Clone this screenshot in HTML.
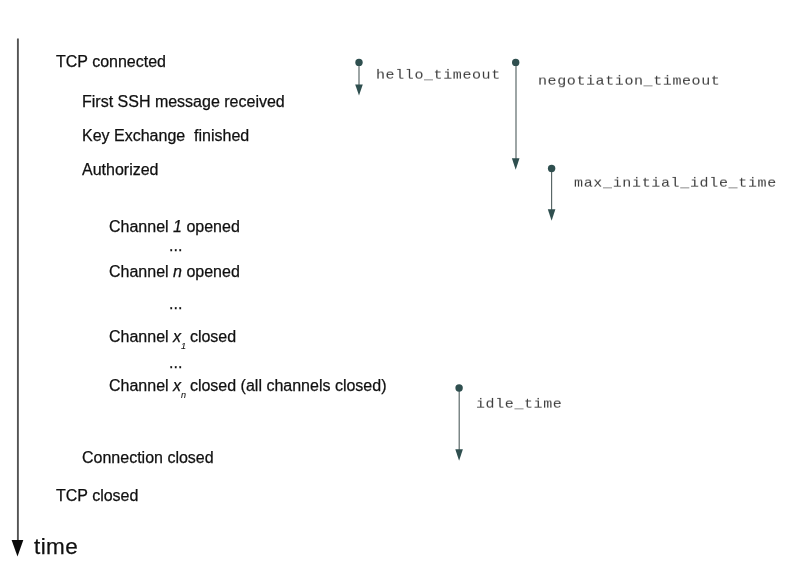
<!DOCTYPE html>
<html><head><meta charset="utf-8"><title>SSH timeouts</title>
<style>
html,body{margin:0;padding:0;background:#fff;}
body{width:787px;height:576px;position:relative;overflow:hidden;font-family:"Liberation Sans",Arial,sans-serif;color:#101010;}
.t{position:absolute;will-change:transform;-webkit-text-stroke:0.25px #101010;font-size:16px;line-height:20px;height:20px;white-space:pre;}
.m{position:absolute;will-change:transform;font-family:"Liberation Mono","DejaVu Sans Mono",monospace;font-size:15px;letter-spacing:0.6px;line-height:18px;height:18px;color:#3e3e3e;white-space:pre;transform:scaleY(0.88);transform-origin:0 0;}
sub{font-size:9px;line-height:0;vertical-align:baseline;position:relative;top:7px;font-style:italic;-webkit-text-stroke:0.1px #101010;margin-right:-0.6px;}
svg{position:absolute;left:0;top:0;}
</style></head><body>
<svg width="787" height="576" viewBox="0 0 787 576">
<line x1="17.9" y1="38.6" x2="17.9" y2="541" stroke="#545454" stroke-width="1.9"/>
<polygon points="11.6,540 23.3,540 17.5,556.6" fill="#0a0a0a"/>
<g stroke="#566464" stroke-width="1.15" fill="#2f4f4f">
<line x1="359" y1="63" x2="359" y2="86"/><circle cx="359" cy="62.4" r="3.7" stroke="none"/><polygon points="355.2,84.6 362.8,84.6 359,95.6" stroke="none"/>
<line x1="516" y1="63" x2="516" y2="160"/><circle cx="515.7" cy="62.4" r="3.7" stroke="none"/><polygon points="511.9,158.3 519.5,158.3 515.7,169.7" stroke="none"/>
<line x1="551.6" y1="169" x2="551.6" y2="211"/><circle cx="551.6" cy="168.5" r="3.7" stroke="none"/><polygon points="547.8,209.3 555.4,209.3 551.6,220.7" stroke="none"/>
<line x1="459.2" y1="388" x2="459.2" y2="451"/><circle cx="459.1" cy="388" r="3.7" stroke="none"/><polygon points="455.3,449.2 462.9,449.2 459.1,460.7" stroke="none"/>
</g>
</svg>
<div class="t" style="left:56.3px;top:52px">TCP connected</div>
<div class="t" style="left:82px;top:92px">First SSH message received</div>
<div class="t" style="left:82px;top:126px">Key Exchange  finished</div>
<div class="t" style="left:82px;top:160px">Authorized</div>
<div class="t" style="left:109px;top:217px">Channel <i>1</i> opened</div>
<div class="t" style="left:169px;top:236px">...</div>
<div class="t" style="left:109px;top:262px">Channel <i>n</i> opened</div>
<div class="t" style="left:169px;top:294px">...</div>
<div class="t" style="left:109px;top:326.6px">Channel <i>x</i><sub>1</sub> closed</div>
<div class="t" style="left:169px;top:353px">...</div>
<div class="t" style="left:109px;top:376px">Channel <i>x</i><sub>n</sub> closed (all channels closed)</div>
<div class="t" style="left:82px;top:448px">Connection closed</div>
<div class="t" style="left:56.2px;top:486px">TCP closed</div>
<div class="t" style="left:33.7px;top:533px;font-size:22.5px;letter-spacing:0.4px;line-height:28px;height:28px">time</div>
<div class="m" style="left:376.3px;top:67.6px">hello_timeout</div>
<div class="m" style="left:538.2px;top:74.2px">negotiation_timeout</div>
<div class="m" style="left:573.5px;top:176.1px;letter-spacing:0.66px">max_initial_idle_time</div>
<div class="m" style="left:475.7px;top:397px">idle_time</div>
</body></html>
